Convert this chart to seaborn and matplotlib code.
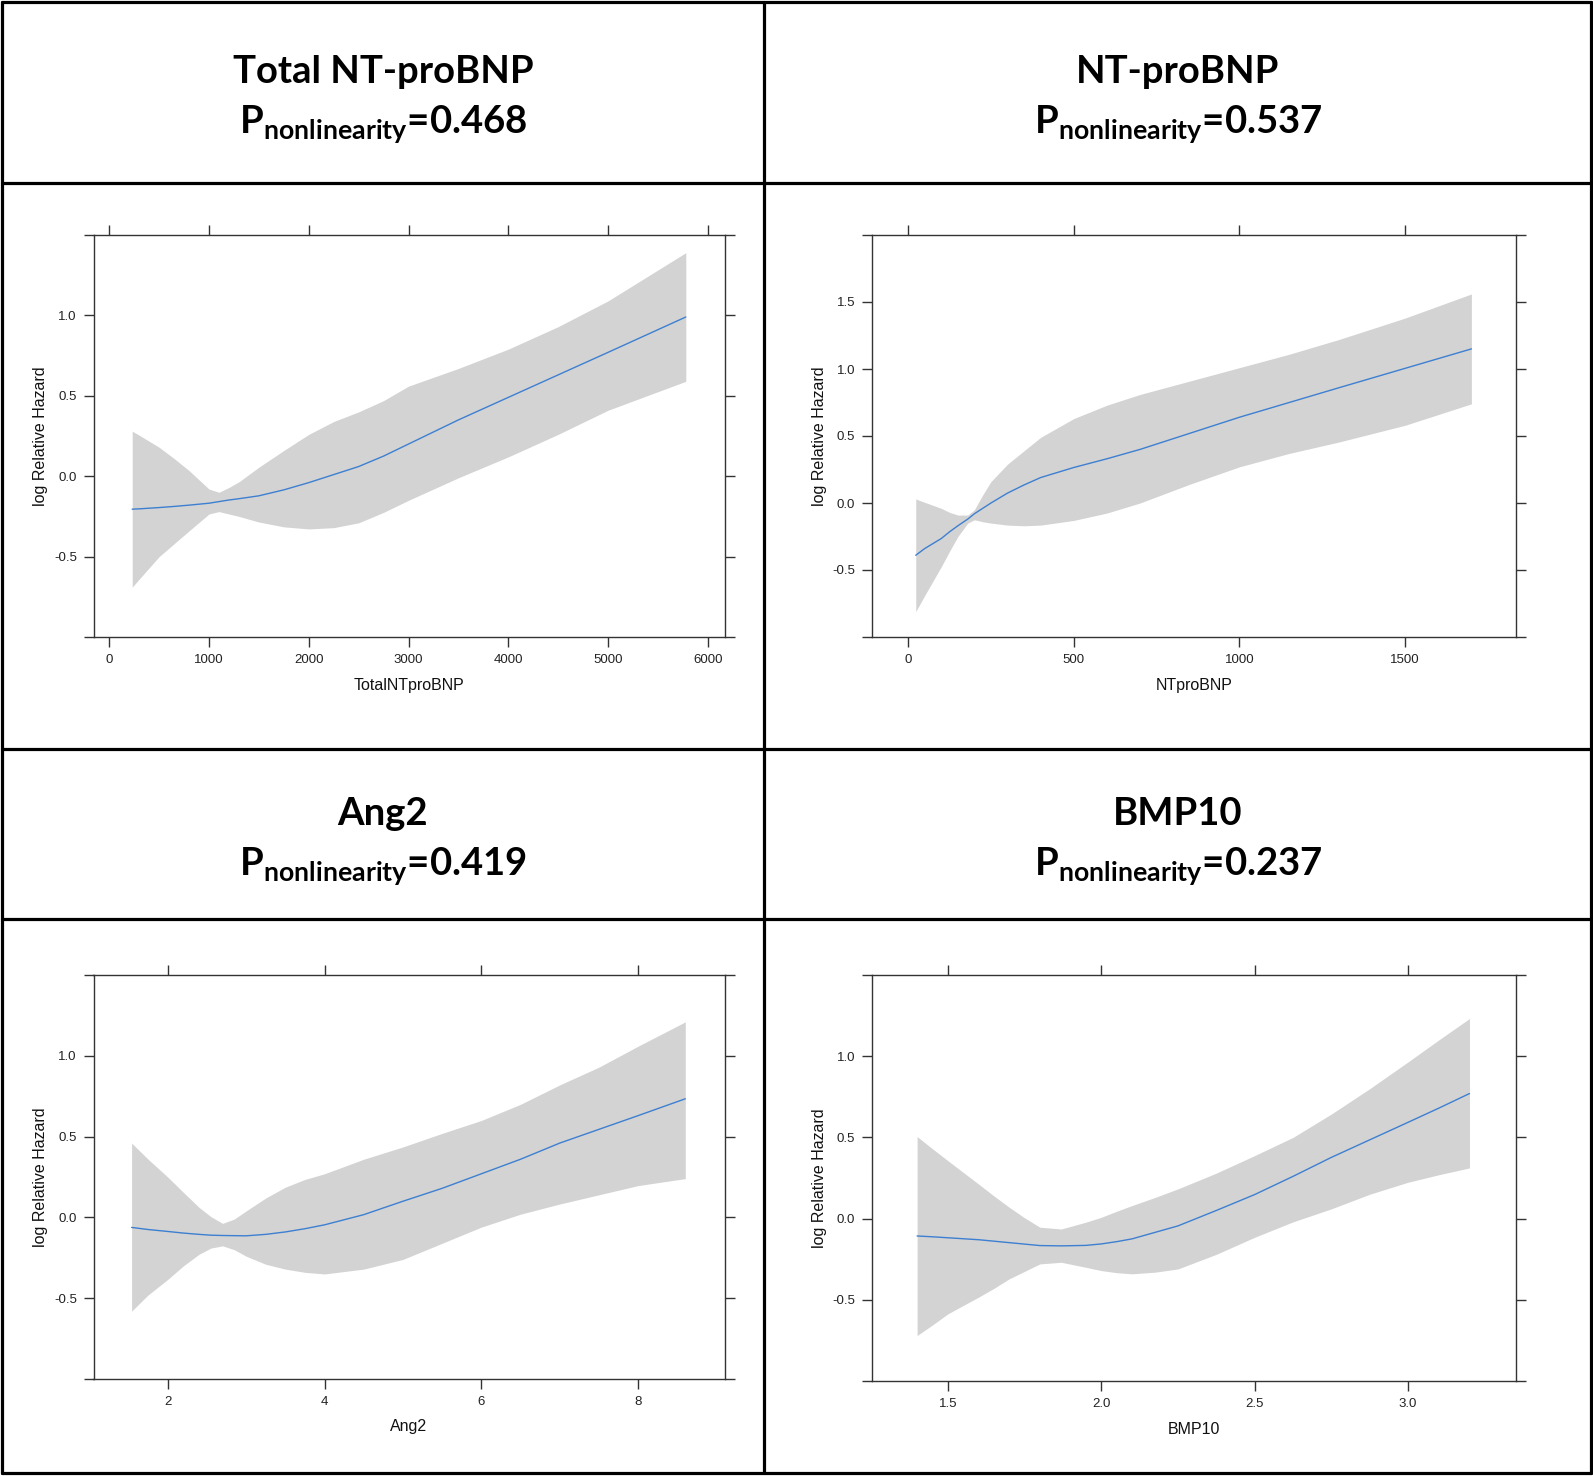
import matplotlib
matplotlib.use("Agg")
import matplotlib.pyplot as plt
import seaborn as sns
import pandas as pd
from matplotlib.lines import Line2D

# panel titles / labels
names = ["Total NT-proBNP", "NT-proBNP", "Ang2", "BMP10"]
p_values = ["0.468", "0.537", "0.419", "0.237"]
xlabels = ["TotalNTproBNP", "NTproBNP", "Ang2", "BMP10"]

# Total NT-proBNP
tot_x = [230, 300, 500, 650, 800, 1000, 1100, 1200, 1300, 1500, 1750, 2000, 2250, 2500, 2750,
         3000, 3500, 4000, 4500, 5000, 5780]
tot_fit = [-0.205, -0.203, -0.195, -0.188, -0.18, -0.168, -0.158, -0.148, -0.14, -0.122, -0.085,
           -0.04, 0.01, 0.06, 0.125, 0.20, 0.35, 0.49, 0.63, 0.77, 0.99]
tot_up = [0.28, 0.255, 0.18, 0.11, 0.035, -0.08, -0.10, -0.07, -0.035, 0.056, 0.16, 0.26, 0.34,
          0.40, 0.47, 0.56, 0.67, 0.79, 0.93, 1.09, 1.39]
tot_lo = [-0.69, -0.64, -0.50, -0.42, -0.34, -0.235, -0.22, -0.235, -0.25, -0.285, -0.315, -0.328,
          -0.32, -0.29, -0.225, -0.15, -0.01, 0.12, 0.26, 0.41, 0.59]

# NT-proBNP
nt_x = [23, 50, 100, 125, 150, 180, 200, 225, 250, 300, 350, 400, 500, 600, 700, 850, 1000,
        1150, 1300, 1500, 1700]
nt_fit = [-0.39, -0.34, -0.265, -0.215, -0.17, -0.12, -0.08, -0.04, 0.0, 0.074, 0.135, 0.19,
          0.265, 0.33, 0.40, 0.52, 0.64, 0.75, 0.86, 1.005, 1.15]
nt_up = [0.03, 0.005, -0.04, -0.07, -0.09, -0.09, -0.05, 0.06, 0.16, 0.29, 0.39, 0.49, 0.63,
         0.73, 0.81, 0.91, 1.01, 1.11, 1.22, 1.38, 1.56]
nt_lo = [-0.81, -0.69, -0.475, -0.36, -0.25, -0.15, -0.125, -0.14, -0.15, -0.165, -0.17, -0.165,
         -0.13, -0.075, 0.0, 0.14, 0.27, 0.37, 0.455, 0.58, 0.74]

# Ang2
ang_x = [1.54, 1.75, 2.0, 2.2, 2.4, 2.55, 2.7, 2.85, 3.0, 3.25, 3.5, 3.75, 4.0, 4.5, 5.0, 5.5,
         6.0, 6.5, 7.0, 7.5, 8.0, 8.6]
ang_fit = [-0.062, -0.075, -0.087, -0.097, -0.105, -0.11, -0.112, -0.113, -0.114, -0.105, -0.09,
           -0.07, -0.046, 0.017, 0.10, 0.18, 0.27, 0.36, 0.46, 0.545, 0.63, 0.734]
ang_up = [0.46, 0.36, 0.25, 0.155, 0.062, 0.005, -0.037, -0.01, 0.04, 0.12, 0.187, 0.235, 0.27,
          0.36, 0.436, 0.52, 0.60, 0.70, 0.82, 0.93, 1.06, 1.21]
ang_lo = [-0.58, -0.48, -0.384, -0.30, -0.228, -0.19, -0.176, -0.20, -0.24, -0.29, -0.32, -0.34,
          -0.35, -0.32, -0.26, -0.16, -0.06, 0.02, 0.083, 0.14, 0.197, 0.24]

# BMP10
bmp_x = [1.40, 1.45, 1.5, 1.55, 1.6, 1.65, 1.7, 1.75, 1.8, 1.87, 1.95, 2.0, 2.05, 2.1, 2.175,
         2.25, 2.375, 2.5, 2.625, 2.75, 2.875, 3.0, 3.1, 3.2]
bmp_fit = [-0.107, -0.112, -0.118, -0.124, -0.13, -0.139, -0.148, -0.157, -0.166, -0.168, -0.165,
           -0.156, -0.142, -0.125, -0.085, -0.045, 0.05, 0.148, 0.26, 0.377, 0.485, 0.593, 0.68, 0.77]
bmp_up = [0.505, 0.43, 0.357, 0.285, 0.213, 0.14, 0.07, 0.005, -0.053, -0.064, -0.022, 0.008,
          0.045, 0.08, 0.13, 0.183, 0.28, 0.388, 0.50, 0.644, 0.80, 0.965, 1.10, 1.232]
bmp_lo = [-0.72, -0.655, -0.587, -0.535, -0.484, -0.43, -0.371, -0.325, -0.279, -0.269, -0.30,
          -0.32, -0.333, -0.34, -0.33, -0.31, -0.22, -0.115, -0.02, 0.06, 0.15, 0.224, 0.27, 0.312]

panels = [
    (tot_x, tot_fit, tot_up, tot_lo, (-158, 6168), [0, 1000, 2000, 3000, 4000, 5000, 6000], (-1.0, 1.5)),
    (nt_x, nt_fit, nt_up, nt_lo, (-110, 1834), [0, 500, 1000, 1500], (-1.0, 2.0)),
    (ang_x, ang_fit, ang_up, ang_lo, (1.054, 9.10), [2, 4, 6, 8], (-1.0, 1.5)),
    (bmp_x, bmp_fit, bmp_up, bmp_lo, (1.252, 3.351), [1.5, 2.0, 2.5, 3.0], (-1.0, 1.5)),
]

W, H = 1593, 1476
sns.set_style("white")
plt.rcParams["font.family"] = ["Liberation Sans", "DejaVu Sans"]
plt.rcParams["mathtext.fontset"] = "custom"
plt.rcParams["mathtext.rm"] = "Lato:bold"
plt.rcParams["mathtext.it"] = "Lato:bold"
plt.rcParams["mathtext.bf"] = "Lato:bold"

fig = plt.figure(figsize=(W / 100, H / 100), dpi=100)

# axes boxes in pixels: left, top, right, bottom
boxes = [(93.5, 235, 724.5, 637), (871.7, 235, 1515.8, 637),
         (93.5, 975, 724.5, 1379), (871.7, 975, 1515.8, 1381)]
title_pos = [(383, 72, 124), (1178, 72, 124), (383, 814, 866), (1178, 814, 866)]
xlabel_y = [686, 686, 1426, 1429]

for i, (x, fit, up, lo, xlim, xt, ylim) in enumerate(panels):
    l, t, r, b = boxes[i]
    ax = fig.add_axes([l / W, 1 - b / H, (r - l) / W, (b - t) / H])
    df = pd.DataFrame({"x": x, "fit": fit, "up": up, "lo": lo})
    ax.fill_between(df["x"], df["lo"], df["up"], color="#d3d3d3", lw=0)
    sns.lineplot(data=df, x="x", y="fit", ax=ax, color="#3d7fd1", lw=1.0)
    ax.set_xlim(*xlim)
    ax.set_ylim(*ylim)
    ax.set_xticks(xt)
    ax.set_xticklabels([f"{v:g}" if isinstance(v, int) else f"{v:.1f}" for v in xt])
    yt = [ylim[0]] + [v / 2 for v in range(int(ylim[0] * 2) + 1, int(ylim[1] * 2))] + [ylim[1]]
    ax.set_yticks(yt)
    ax.set_yticklabels([""] + [f"{v:.1f}" for v in yt[1:-1]] + [""])
    ax.tick_params(axis="both", which="both", direction="out", length=7, width=1,
                   color="#333333", labelsize=9.5, labelcolor="#222222",
                   top=True, right=True, bottom=True, left=True, pad=5)
    for s in ax.spines.values():
        s.set_color("#333333")
        s.set_linewidth(1.0)
    ax.set_xlabel("")
    ax.set_ylabel("log Relative Hazard", fontsize=11.5, color="#111111", labelpad=4)
    cx = (l + r) / 2
    fig.text(cx / W, 1 - xlabel_y[i] / H, xlabels[i], ha="center", va="center",
             fontsize=11.5, color="#111111")
    tx, ty1, ty2 = title_pos[i]
    fig.text(tx / W, 1 - ty1 / H, names[i], ha="center", va="center",
             fontsize=27.5, fontfamily="Lato", fontweight="bold", color="black")
    fig.text(tx / W, 1 - ty2 / H, r"$\mathrm{P}_{\mathrm{nonlinearity}}$=" + p_values[i],
             ha="center", va="center", fontsize=27.5, fontfamily="Lato", fontweight="bold",
             color="black")

# table frame
lw = 2.3
def hline(y, x0=1.5, x1=1591):
    fig.add_artist(Line2D([x0 / W, x1 / W], [1 - y / H, 1 - y / H], color="black", lw=lw))

def vline(x, y0=1.5, y1=1473):
    fig.add_artist(Line2D([x / W, x / W], [1 - y0 / H, 1 - y1 / H], color="black", lw=lw))

for y in [1.5, 183, 749, 919, 1473]:
    hline(y)
for x in [1.5, 764, 1591]:
    vline(x)

fig.savefig("out.png", dpi=100, facecolor="white")
